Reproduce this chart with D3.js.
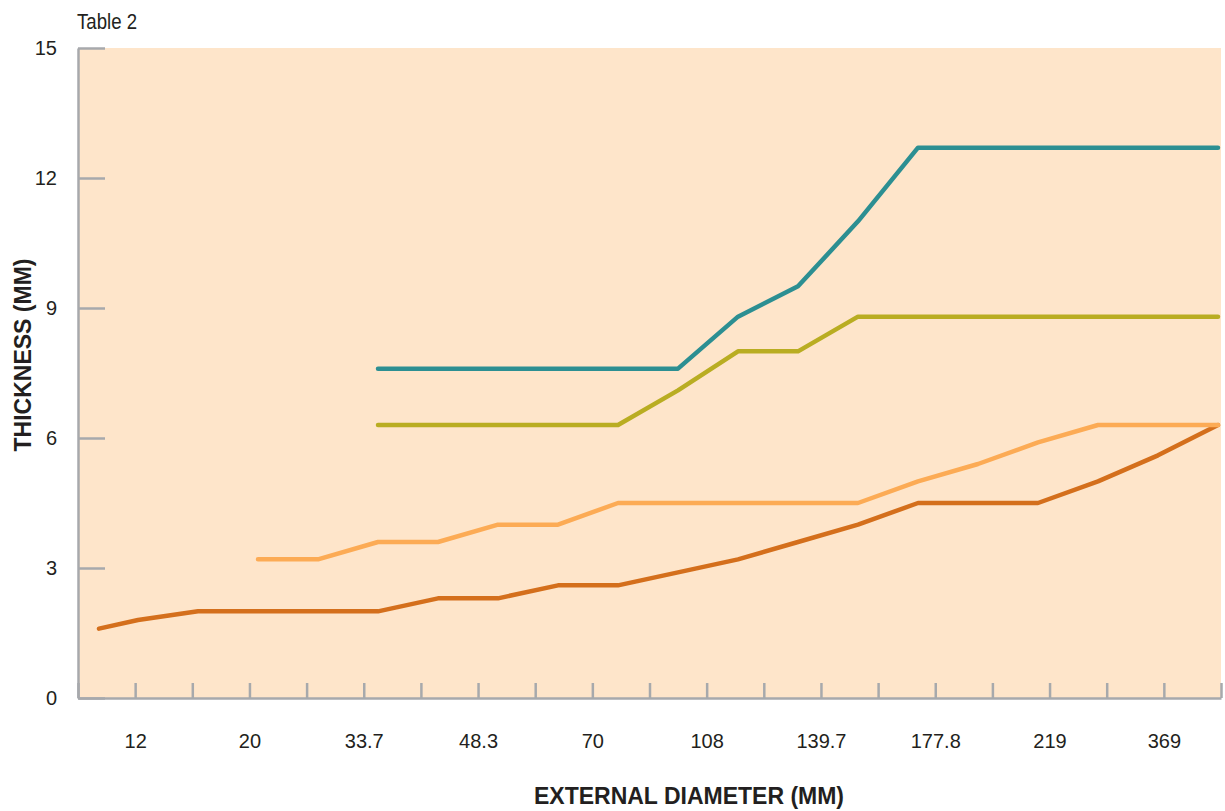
<!DOCTYPE html>
<html>
<head>
<meta charset="utf-8">
<script src="https://cdn.jsdelivr.net/npm/d3@7"></script>
<style>
	body { margin: 0; background: #fff; }
	svg text { font-family: "Liberation Sans", Arial, sans-serif; fill: #231f20; }
	.axis path, .axis line { stroke: #a7a9ac; stroke-width: 2.5; }
	.axis text { font-size: 20px; }
	.title { font-size: 22px; }
	.axis-title { font-weight: bold; font-size: 23px; }
	.series { fill: none; stroke-width: 4.5; stroke-linecap: round; stroke-linejoin: round; }
</style>
</head>
<body>
<svg id="chart" width="1225" height="811"></svg>
<script>
// tick labels (external diameter, mm), one under every other tick
var diameters = ["12", "20", "33.7", "48.3", "70", "108", "139.7", "177.8", "219", "369"];
var thicknessTicks = [0, 3, 6, 9, 12, 15];

// x position of each data point (point index along the line axis)
var positions = [0.35, 1, 2, 3, 4, 5, 6, 7, 8, 9, 10, 11, 12, 13, 14, 15, 16, 17, 18, 19];

// series values, null where the series has no value
var seriesDark   = [1.6, 1.8, 2.0, 2.0, 2.0, 2.0, 2.3, 2.3, 2.6, 2.6, 2.9, 3.2, 3.6, 4.0, 4.5, 4.5, 4.5, 5.0, 5.6, 6.3];
var seriesLight  = [null, null, null, 3.2, 3.2, 3.6, 3.6, 4.0, 4.0, 4.5, 4.5, 4.5, 4.5, 4.5, 5.0, 5.4, 5.9, 6.3, 6.3, 6.3];
var seriesOlive  = [null, null, null, null, null, 6.3, 6.3, 6.3, 6.3, 6.3, 7.1, 8.0, 8.0, 8.8, 8.8, 8.8, 8.8, 8.8, 8.8, 8.8];
var seriesTeal   = [null, null, null, null, null, 7.6, 7.6, 7.6, 7.6, 7.6, 7.6, 8.8, 9.5, 11.0, 12.7, 12.7, 12.7, 12.7, 12.7, 12.7];

var chart = {
	left : 78,
	right : 1221,
	top : 48,
	bottom : 698,

	init : function ()
	{
		this.svg = d3.select("svg#chart");

		// ticks: 20 intervals along the bottom
		this.xTick = d3.scaleLinear()
		.domain([0, 20])
		.range([this.left, this.right]);

		// data points: 60px apart, index 0 at the left edge
		this.xLine = d3.scaleLinear()
		.domain([0, 19])
		.range([this.left, 1218]);

		this.y = d3.scaleLinear()
		.domain([0, 15])
		.range([this.bottom, this.top]);
	},

	renderBackground : function ()
	{
		this.svg.append("rect")
		.attr("x", this.left)
		.attr("y", this.top)
		.attr("width", this.right - this.left)
		.attr("height", this.bottom - this.top)
		.attr("fill", "#fee5ca");
	},

	renderAxes : function ()
	{
		var xAxis = d3.axisBottom(this.xTick)
		.tickValues(d3.range(0, 21))
		.tickFormat(function (i) {
			return i % 2 ? diameters[(i - 1) / 2] : "";
		})
		.tickSize(-15)
		.tickSizeOuter(0)
		.tickPadding(36);

		var gx = this.svg.append("g")
		.classed("axis", true)
		.attr("transform", "translate(0," + this.bottom + ")")
		.call(xAxis);

		var yAxis = d3.axisLeft(this.y)
		.tickValues(thicknessTicks)
		.tickSize(-27)
		.tickSizeOuter(0)
		.tickPadding(21);

		var gy = this.svg.append("g")
		.classed("axis", true)
		.attr("transform", "translate(" + this.left + ",0)")
		.call(yAxis);

		gx.selectAll("text").attr("font-size", null);
		gy.selectAll("text").attr("font-size", null);
		this.svg.selectAll(".axis").attr("font-family", null).attr("font-size", null);
	},

	renderLines : function ()
	{
		var list = [
			{ values : seriesDark, color : "#d46f1c" },
			{ values : seriesLight, color : "#fcab55" },
			{ values : seriesOlive, color : "#b9ad22" },
			{ values : seriesTeal, color : "#2c8f92" }
		];

		var line = d3.line()
		.defined(function (d) { return d.v !== null; })
		.x(function (d) { return this.xLine(d.p); }.bind(this))
		.y(function (d) { return this.y(d.v); }.bind(this));

		this.svg.append("g")
		.selectAll("path")
		.data(list)
		.join("path")
		.classed("series", true)
		.attr("stroke", function (d) { return d.color; })
		.attr("d", function (d) {
			return line(d.values.map(function (v, i) {
				return { p : positions[i], v : v };
			}));
		});
	},

	renderTitles : function ()
	{
		// narrow face is not installed, squeeze the regular one
		this.svg.append("text")
		.classed("title", true)
		.attr("x", 77)
		.attr("y", 29)
		.attr("textLength", 60)
		.attr("lengthAdjust", "spacingAndGlyphs")
		.text("Table 2");

		this.svg.append("text")
		.classed("axis-title", true)
		.attr("text-anchor", "middle")
		.attr("transform", "translate(31,355) rotate(-90)")
		.text("THICKNESS (MM)");

		this.svg.append("text")
		.classed("axis-title", true)
		.attr("text-anchor", "middle")
		.attr("x", 689)
		.attr("y", 804)
		.text("EXTERNAL DIAMETER (MM)");
	}
};

chart.init();
chart.renderBackground();
chart.renderLines();
chart.renderAxes();
chart.renderTitles();
</script>
</body>
</html>
